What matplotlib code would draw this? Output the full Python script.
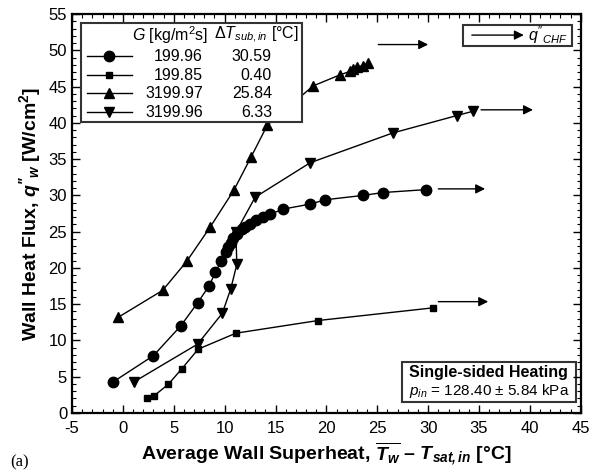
import matplotlib
matplotlib.use("Agg")
import matplotlib.pyplot as plt
from matplotlib.lines import Line2D
from matplotlib.patches import Rectangle
from matplotlib.ticker import MultipleLocator

plt.rcParams['font.family'] = ['Liberation Sans', 'DejaVu Sans']
plt.rcParams['mathtext.fontset'] = 'custom'
plt.rcParams['mathtext.rm'] = 'Liberation Sans'
plt.rcParams['mathtext.it'] = 'Liberation Sans:italic'
plt.rcParams['mathtext.bf'] = 'Liberation Sans:bold'
plt.rcParams['mathtext.bfit'] = 'Liberation Sans:bold:italic'
plt.rcParams['axes.unicode_minus'] = False

# G = 199.96 kg/m2s, dT_sub = 30.59 C  (circles)
x_circ = [-0.94, 3.0, 5.68, 7.35, 8.46, 9.1, 9.64, 10.1, 10.35, 10.6, 10.85, 11.17,
          11.67, 12.0, 12.5, 13.1, 13.8, 14.5, 15.7, 18.4, 19.9, 23.6, 25.6, 29.8]
y_circ = [4.3, 7.9, 12.0, 15.2, 17.5, 19.4, 20.9, 22.25, 22.9, 23.5, 24.1, 24.7,
          25.3, 25.7, 26.1, 26.6, 27.0, 27.4, 28.1, 28.8, 29.4, 30.0, 30.4, 30.8]

# G = 199.85, dT_sub = 0.40  (squares)
x_sq = [2.4, 3.05, 4.46, 5.78, 7.4, 11.1, 19.2, 30.5]
y_sq = [2.0, 2.35, 3.95, 6.07, 8.8, 11.0, 12.75, 14.5]

# G = 3199.97, dT_sub = 25.84  (triangles up)
x_tup = [-0.45, 3.9, 6.27, 8.56, 10.9, 12.6, 14.2, 18.7, 21.3, 22.3, 22.6, 23.0, 23.6, 24.1]
y_tup = [13.2, 16.9, 20.9, 25.6, 30.7, 35.3, 39.7, 45.1, 46.6, 47.1, 47.4, 47.7, 47.9, 48.2]

# G = 3199.96, dT_sub = 6.33  (triangles down)
x_tdn = [1.1, 7.35, 9.77, 10.6, 11.2, 11.1, 13.0, 18.4, 26.5, 32.8, 34.4]
y_tdn = [4.3, 9.5, 13.75, 17.1, 20.5, 24.9, 29.75, 34.5, 38.6, 41.0, 41.6]

# CHF arrows (start x, end x, y)
chf_x0 = [31.0, 31.0, 25.1, 35.2]
chf_x1 = [35.6, 35.9, 30.0, 40.3]
chf_y = [30.9, 15.35, 50.8, 41.8]

g_labels = ["199.96", "199.85", "3199.97", "3199.96"]
dt_labels = ["30.59", "0.40", "25.84", "6.33"]
markers = ['o', 's', '^', 'v']
msizes = [7.5, 5, 7, 7]

fig = plt.figure(figsize=(6.0, 4.76), dpi=100)
ax = fig.add_axes([0.12, 0.1324, 0.848, 0.838])

series = [(x_circ, y_circ), (x_sq, y_sq), (x_tup, y_tup), (x_tdn, y_tdn)]
for (xs, ys), m, ms in zip(series, markers, msizes):
    ax.plot(xs, ys, color='black', lw=1.0, marker=m, ms=ms, mfc='black', mec='black')

for x0, x1, y in zip(chf_x0, chf_x1, chf_y):
    ax.annotate("", xy=(x1, y), xytext=(x0, y),
                arrowprops=dict(arrowstyle='-|>', color='black', lw=1.0,
                                mutation_scale=14, shrinkA=0, shrinkB=0))

ax.set_xlim(-5, 45)
ax.set_ylim(0, 55)
ax.xaxis.set_major_locator(MultipleLocator(5))
ax.xaxis.set_minor_locator(MultipleLocator(1))
ax.yaxis.set_major_locator(MultipleLocator(5))
ax.yaxis.set_minor_locator(MultipleLocator(1))
ax.tick_params(which='both', direction='in', top=True, right=True, labelsize=12)
ax.tick_params(which='major', length=6, width=1)
ax.tick_params(which='minor', length=3, width=0.8)
ax.tick_params(axis='x', pad=6)
for s in ax.spines.values():
    s.set_linewidth(1.6)

ax.set_xlabel(r"Average Wall Superheat, $\overline{\mathbfit{T}_{\mathbfit{w}}}$ – "
              r"$\mathbfit{T}_{\mathbfit{sat,in}}$ [°C]", fontsize=14, fontweight='bold', labelpad=3)
ax.set_ylabel(r"Wall Heat Flux, $\mathbfit{q''}_{\mathbfit{w}}$ [W/cm$^{\mathbf{2}}$]",
              fontsize=14, fontweight='bold', labelpad=4)

# legend table, placed in pixel-ish axes fractions
W, H = 509.0, 399.0
def ax_xy(px, py):
    return ((px - 72) / W, (413 - py) / H)

fs = 11.5
x0, y0 = ax_xy(81, 122)
x1, y1 = ax_xy(302, 23)
ax.add_patch(Rectangle((x0, y0), x1 - x0, y1 - y0, transform=ax.transAxes,
                       fill=True, fc='white', ec='#333333', lw=1.5, zorder=5))
hx = ax_xy(208, 35)
ax.text(hx[0], hx[1], r"$\mathit{G}$ [kg/m$^2$s]", transform=ax.transAxes,
        fontsize=fs, ha='right', va='center', zorder=6)
hx = ax_xy(299, 35)
ax.text(hx[0], hx[1], r"Δ$\mathit{T}_{\mathit{sub,in}}$ [°C]", transform=ax.transAxes,
        fontsize=fs, ha='right', va='center', zorder=6)
row_y = [56, 75, 93, 112]
for ry, m, ms, g, dt in zip(row_y, markers, msizes, g_labels, dt_labels):
    a = ax_xy(87, ry)
    b = ax_xy(132, ry)
    c = ax_xy(109, ry)
    ax.add_line(Line2D([a[0], b[0]], [a[1], b[1]], transform=ax.transAxes,
                       color='black', lw=1.0, zorder=6))
    ax.add_line(Line2D([c[0]], [c[1]], transform=ax.transAxes, marker=m, ms=ms,
                       color='black', zorder=6))
    p = ax_xy(203, ry)
    ax.text(p[0], p[1], g, transform=ax.transAxes, fontsize=fs, ha='right', va='center', zorder=6)
    p = ax_xy(272, ry)
    ax.text(p[0], p[1], dt, transform=ax.transAxes, fontsize=fs, ha='right', va='center', zorder=6)

# q"CHF key box
x0, y0 = ax_xy(463, 46)
x1, y1 = ax_xy(572, 25)
ax.add_patch(Rectangle((x0, y0), x1 - x0, y1 - y0, transform=ax.transAxes,
                       fill=False, ec='#333333', lw=1.5))
a = ax_xy(472, 35)
b = ax_xy(524, 35)
ax.annotate("", xy=b, xytext=a, xycoords='axes fraction', textcoords='axes fraction',
            arrowprops=dict(arrowstyle='-|>', color='black', lw=1.0,
                            mutation_scale=14, shrinkA=0, shrinkB=0))
p = ax_xy(528, 35)
ax.text(p[0], p[1], r"$\mathit{q''}_{\mathit{CHF}}$", transform=ax.transAxes,
        fontsize=fs, ha='left', va='center')

# conditions box
x0, y0 = ax_xy(402, 402)
x1, y1 = ax_xy(576, 362)
ax.add_patch(Rectangle((x0, y0), x1 - x0, y1 - y0, transform=ax.transAxes,
                       fill=False, ec='#333333', lw=1.5))
p = ax_xy(489, 373)
ax.text(p[0], p[1], "Single-sided Heating", transform=ax.transAxes,
        fontsize=11.5, fontweight='bold', ha='center', va='center')
p = ax_xy(489, 391)
ax.text(p[0], p[1], r"$\mathit{p}_{\mathit{in}}$ = 128.40 ± 5.84 kPa", transform=ax.transAxes,
        fontsize=11, ha='center', va='center')

fig.text(20 / 600, 1 - 462 / 476, "(a)", family='Liberation Serif', fontsize=12,
         ha='center', va='center')

fig.savefig("out.png", dpi=100)
